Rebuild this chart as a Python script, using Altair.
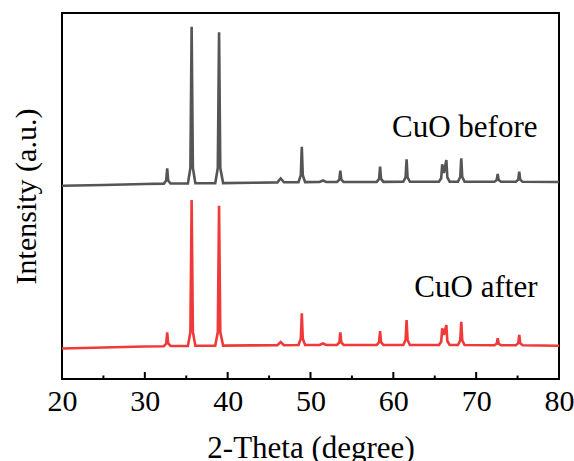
import altair as alt
import pandas as pd

# ---- data (2-theta in degrees, intensity in a.u.) ----
two_theta_before = [20, 25, 30,
                    32.3, 32.58, 32.7, 32.82, 33.1,
                    35.2, 35.5, 35.65, 35.8, 36.1,
                    38.5, 38.81, 38.96, 39.11, 39.45,
                    43,
                    46.0, 46.4, 46.8,
                    48.55, 48.83, 48.95, 49.07, 49.35,
                    51.1, 51.5, 51.9,
                    53.2, 53.48, 53.6, 53.72, 54.0,
                    58.0, 58.28, 58.4, 58.52, 58.8,
                    61.2, 61.48, 61.6, 61.72, 62.0,
                    65.5, 65.78, 65.9, 66.1, 66.4, 66.52, 66.8,
                    67.8, 68.08, 68.2, 68.32, 68.6,
                    72.2, 72.48, 72.6, 72.72, 73.0,
                    74.8, 75.08, 75.2, 75.32, 75.6,
                    80]
intensity_before = [193.3, 194, 195,
                    195.4, 198.5, 210.7, 198.5, 195.5,
                    195.6, 211, 352.3, 211, 195.7,
                    195.8, 211, 346.7, 211, 195.9,
                    196.3,
                    196.6, 200.5, 196.7,
                    196.8, 203.8, 232.3, 203.8, 196.9,
                    197, 198.5, 197,
                    197, 199.4, 208.3, 199.4, 197,
                    197.1, 200.1, 212.3, 200.1, 197.1,
                    197.2, 201.7, 219.7, 201.7, 197.2,
                    197.3, 200.8, 214.7, 206, 219, 201.7, 197.3,
                    197.3, 202, 220.7, 202, 197.3,
                    197.3, 198.9, 205, 198.9, 197.3,
                    197.3, 199.4, 207.3, 199.4, 197.3,
                    197]

two_theta_after = [20, 25, 30,
                   32.3, 32.58, 32.7, 32.82, 33.1,
                   35.2, 35.5, 35.65, 35.8, 36.1,
                   38.5, 38.81, 38.96, 39.11, 39.45,
                   43,
                   46.0, 46.4, 46.8,
                   48.55, 48.83, 48.95, 49.07, 49.35,
                   51.1, 51.5, 51.9,
                   53.2, 53.48, 53.6, 53.72, 54.0,
                   58.0, 58.28, 58.4, 58.52, 58.8,
                   61.2, 61.48, 61.6, 61.72, 62.0,
                   65.5, 65.78, 65.9, 66.1, 66.4, 66.52, 66.8,
                   67.8, 68.08, 68.2, 68.32, 68.6,
                   72.2, 72.48, 72.6, 72.72, 73.0,
                   74.8, 75.08, 75.2, 75.32, 75.6,
                   80]
intensity_after = [30.5, 31.5, 32.5,
                   32.8, 35.5, 46.7, 35.5, 33,
                   33.1, 47, 179, 47, 33.2,
                   33.3, 47, 173.3, 47, 33.4,
                   33.6,
                   33.8, 37, 33.8,
                   34, 40.3, 65.7, 40.3, 34,
                   34, 35.5, 34,
                   34, 36.5, 46.7, 36.5, 34,
                   34, 36.8, 48, 36.8, 34,
                   34, 39, 59, 39, 34,
                   34, 37.3, 50.7, 44, 54, 38, 34,
                   34, 38.7, 57.3, 38.7, 34,
                   33.8, 35.2, 40.7, 35.2, 33.8,
                   33.7, 35.8, 44, 35.8, 33.7,
                   33.3]

series_names = ["CuO before", "CuO after"]
series_colors = ["#555555", "#f03a3a"]
label_x = [77.4, 77.4]
label_y = [242, 82]

major_ticks = [30, 40, 50, 60, 70]
minor_ticks = [25, 35, 45, 55, 65, 75]
x_labels = [20, 30, 40, 50, 60, 70, 80]

FONT = "Liberation Serif"

df = pd.concat([
    pd.DataFrame({"theta": two_theta_before, "intensity": intensity_before, "series": series_names[0]}),
    pd.DataFrame({"theta": two_theta_after, "intensity": intensity_after, "series": series_names[1]}),
], ignore_index=True)
labels_df = pd.DataFrame({"theta": label_x, "intensity": label_y, "text": series_names})
major_df = pd.DataFrame({"theta": major_ticks})
minor_df = pd.DataFrame({"theta": minor_ticks})

W, H = 497, 366

xscale = alt.Scale(domain=[20, 80], nice=False, zero=False)
yscale = alt.Scale(domain=[0, 366], nice=False, zero=False)

xaxis = alt.Axis(values=x_labels, ticks=False, domain=False, grid=False,
                 labelFont=FONT, labelFontSize=30, labelColor="black",
                 labelPadding=7, labelFlush=False,
                 title="2-Theta (degree)", titleFont=FONT, titleFontSize=31,
                 titleFontWeight="normal", titleColor="black", titlePadding=17)
yaxis = alt.Axis(labels=False, ticks=False, domain=False, grid=False,
                 title="Intensity (a.u.)", titleFont=FONT, titleFontSize=30,
                 titleFontWeight="normal", titleColor="black", titlePadding=21)

lines = alt.Chart(df).mark_line(strokeWidth=2.6).encode(
    x=alt.X("theta:Q", scale=xscale, axis=xaxis),
    y=alt.Y("intensity:Q", scale=yscale, axis=yaxis),
    color=alt.Color("series:N", scale=alt.Scale(domain=series_names, range=series_colors), legend=None),
    detail="series:N",
)

texts = alt.Chart(labels_df).mark_text(align="right", baseline="alphabetic", font=FONT,
                                        fontSize=31, color="black").encode(
    x=alt.X("theta:Q", scale=xscale),
    y=alt.Y("intensity:Q", scale=yscale),
    text="text:N",
)

major = alt.Chart(major_df).mark_rule(color="black", strokeWidth=2).encode(
    x=alt.X("theta:Q", scale=xscale),
    y=alt.value(H),
    y2=alt.value(H - 7),
)
minor = alt.Chart(minor_df).mark_rule(color="black", strokeWidth=2).encode(
    x=alt.X("theta:Q", scale=xscale),
    y=alt.value(H),
    y2=alt.value(H - 3.5),
)

chart = alt.layer(lines, texts, major, minor).properties(
    width=W, height=H,
    autosize=alt.AutoSizeParams(type="none"),
    padding={"left": 62, "top": 13, "right": 15, "bottom": 82},
    background="white",
).configure_view(stroke="black", strokeWidth=2)

chart.save("out.html", embed_options={"renderer": "svg", "actions": False})
